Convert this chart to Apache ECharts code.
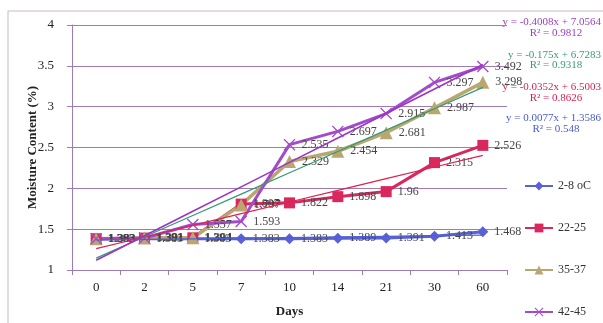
<!DOCTYPE html>
<html>
<head>
<meta charset="utf-8">
<script src="https://cdn.jsdelivr.net/npm/echarts@6/dist/echarts.min.js"></script>
<style>html,body{margin:0;padding:0;background:#fff}#c{width:603px;height:323px}</style>
</head>
<body>
<div id="c"></div>
<script>
const days = ['0','2','5','7','10','14','21','30','60'];
const seriesNames = ['2-8 oC','22-25','35-37','42-45'];
const s28 = [1.383,1.383,1.383,1.383,1.383,1.389,1.391,1.413,1.468];
const s2225 = [1.383,1.391,1.394,1.807,1.822,1.898,1.96,2.315,2.526];
const s3537 = [1.383,1.391,1.394,1.797,2.329,2.454,2.681,2.987,3.298];
const s4245 = [1.383,1.391,1.557,1.593,2.535,2.697,2.915,3.297,3.492];
const equations = [
  ['y = -0.4008x + 7.0564','R\u00b2 = 0.9812'],
  ['y = -0.175x + 6.7283','R\u00b2 = 0.9318'],
  ['y = -0.0352x + 6.5003','R\u00b2 = 0.8626'],
  ['y = 0.0077x + 1.3586','R\u00b2 = 0.548']
];
const yTicks = [1,1.5,2,2.5,3,3.5,4];

const colors = ['#5a60d6','#d8285e','#b9a772','#a34bc9'];
const trendColors = ['#4f5fd0','#e0204e','#2f9a72','#9a36c6'];
const eqColors = ['#9b3fc4','#3a9a78','#d81f52','#4a5cc8'];
const FONT = '"Liberation Serif", "Times New Roman", serif';
const XPATH = 'path://M0,1.6 L1.6,0 L10,8.4 L18.4,0 L20,1.6 L11.6,10 L20,18.4 L18.4,20 L10,11.6 L1.6,20 L0,18.4 L8.4,10 Z';

function fit(v){
  const n=v.length; let sx=0,sy=0,sxx=0,sxy=0;
  v.forEach((y,i)=>{const x=i+1;sx+=x;sy+=y;sxx+=x*x;sxy+=x*y;});
  const b=(n*sxy-sx*sy)/(n*sxx-sx*sx); const a=(sy-b*sx)/n;
  return v.map((_,i)=>+(a+b*(i+1)).toFixed(4));
}
const data = [s28,s2225,s3537,s4245];
const symbols = ['diamond','rect','triangle',XPATH];
const sizes = [11,11,13,12];
const widths = [3,3,3.5,3];

const series = [];
data.forEach((d,k)=>{
  series.push({
    name: seriesNames[k], type:'line', data:d, z:2,
    symbol: symbols[k], symbolSize: sizes[k],
    lineStyle:{color:colors[k], width:widths[k]},
    itemStyle:{color:colors[k]},
    label:{show:true, position:'right', distance:6, fontFamily:FONT, fontSize:12, color:'#444'}
  });
});
data.forEach((d,k)=>{
  series.push({
    name:'trend'+k, type:'line', data:fit(d), symbol:'none', z:3, silent:true,
    lineStyle:{color:trendColors[k], width: k===3?1.6:1.2}
  });
});

const graphics = [
  {type:'rect', shape:{x:8,y:11,width:620,height:330}, style:{fill:'none', stroke:'#c9b7cf', lineWidth:1}, silent:true}
];
const eqY = [[22,33],[55,65],[87,98],[118,129]];
equations.forEach((e,k)=>{
  graphics.push({type:'text', x:601, y:eqY[k][0], style:{text:e[0], align:'right', verticalAlign:'middle', font:'11px '+FONT, fill:eqColors[k]}});
  graphics.push({type:'text', x:556, y:eqY[k][1], style:{text:e[1], align:'center', verticalAlign:'middle', font:'11px '+FONT, fill:eqColors[k]}});
});

const chart = echarts.init(document.getElementById('c'), null, {renderer:'canvas'});
chart.setOption({
  animation:false,
  backgroundColor:'#fff',
  grid:{left:72, top:25, right:96, bottom:52, containLabel:false},
  legend:{
    data: seriesNames, orient:'vertical', left:524, top:180, itemGap:30, padding:0,
    itemWidth:28, itemHeight:11,
    textStyle:{fontFamily:FONT, fontSize:12, lineHeight:12, color:'#333'}
  },
  xAxis:{
    type:'category', data:days, boundaryGap:true,
    name:'Days', nameLocation:'middle', nameGap:35, nameMoveOverlap:false,
    nameTextStyle:{fontFamily:FONT, fontSize:13, fontWeight:'bold', color:'#222'},
    axisLine:{lineStyle:{color:'#a07ab2', width:1}},
    axisTick:{show:true, inside:false, length:5, alignWithLabel:false, lineStyle:{color:'#a07ab2'}},
    axisLabel:{fontFamily:FONT, fontSize:13, color:'#222', margin:11}
  },
  yAxis:{
    type:'value', min:1, max:4, interval:0.5,
    name:'Moisture Content (%)', nameLocation:'middle', nameGap:33, nameMoveOverlap:false,
    nameTextStyle:{fontFamily:FONT, fontSize:13, fontWeight:'bold', color:'#222'},
    axisLine:{show:true, lineStyle:{color:'#a07ab2', width:1}},
    axisTick:{show:true, length:5, lineStyle:{color:'#a07ab2'}},
    splitLine:{show:true, lineStyle:{color:'#a07ab2', width:1}},
    axisLabel:{fontFamily:FONT, fontSize:13, color:'#222', margin:18,
      formatter:v=>String(yTicks.find(t=>Math.abs(t-v)<1e-9) ?? v)}
  },
  series: series,
  graphic: graphics
});
</script>
</body>
</html>
